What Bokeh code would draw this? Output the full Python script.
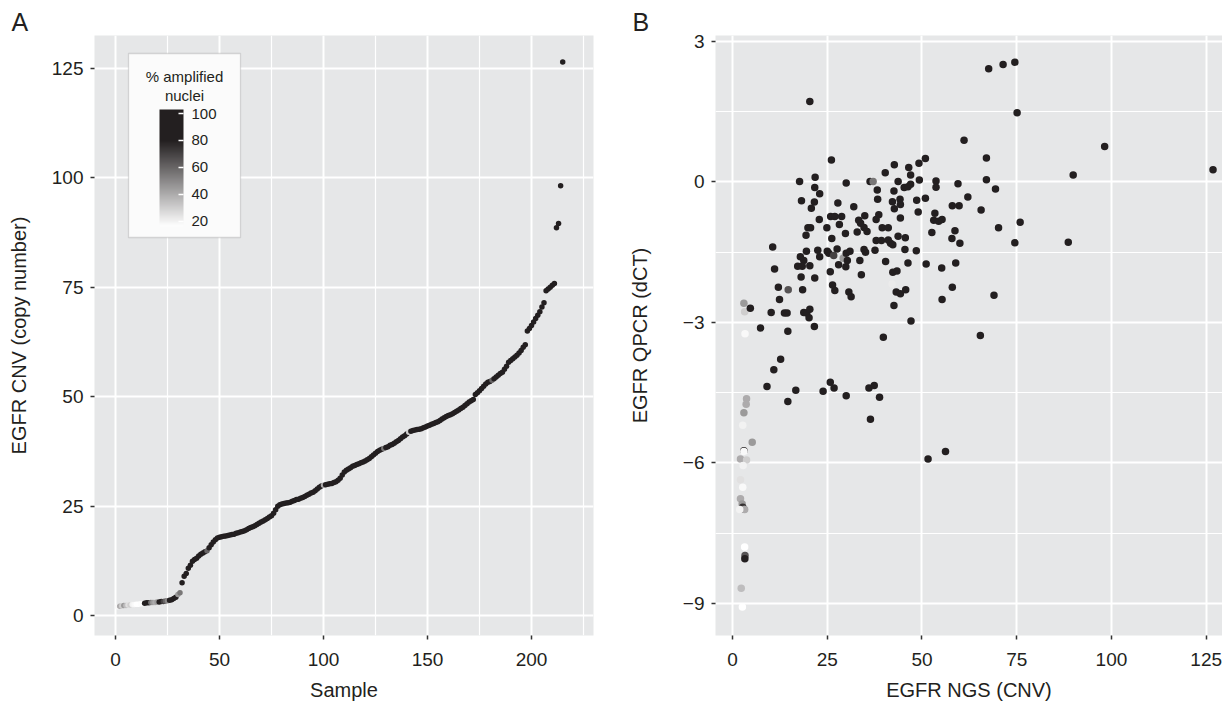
import numpy as np
from bokeh.plotting import figure
from bokeh.models import (ColumnDataSource, LinearColorMapper, ColorBar, FixedTicker,
                          Label, Range1d, BoxAnnotation, CustomJSTickFormatter)
from bokeh.layouts import row
from bokeh.transform import transform
from bokeh.embed import file_html
from bokeh.resources import INLINE

# ---------------- data ----------------
# Panel A: samples sorted by EGFR copy number
sample_idx = list(range(1, 216))
cnv_a = [
    2.0, 2.1, 2.2, 2.3, 2.3, 2.4, 2.4, 2.5, 2.5, 2.6,
    2.6, 2.7, 2.7, 2.8, 2.9, 2.9, 3.0, 3.0, 3.0, 3.1,
    3.1, 3.2, 3.2, 3.3, 3.4, 3.5, 3.6, 3.9, 4.2, 4.8,
    5.2, 7.5, 9.0, 9.6, 10.8, 11.5, 12.4, 12.8, 13.1, 13.6,
    14.0, 14.3, 14.6, 14.8, 15.5, 16.2, 16.8, 17.3, 17.7, 17.9,
    18.0, 18.1, 18.2, 18.3, 18.4, 18.5, 18.6, 18.8, 18.9, 19.1,
    19.2, 19.4, 19.6, 19.9, 20.1, 20.3, 20.5, 20.8, 21.1, 21.4,
    21.6, 21.9, 22.2, 22.5, 22.8, 23.4, 24.2, 25.0, 25.3, 25.5,
    25.6, 25.7, 25.8, 25.9, 26.1, 26.3, 26.5, 26.6, 26.8, 27.0,
    27.2, 27.5, 27.7, 28.0, 28.2, 28.5, 28.9, 29.3, 29.6, 29.8,
    29.9, 30.0, 30.1, 30.2, 30.4, 30.6, 30.9, 31.4, 32.1, 32.8,
    33.2, 33.5, 33.8, 34.1, 34.3, 34.5, 34.7, 34.9, 35.1, 35.3,
    35.6, 35.9, 36.3, 36.7, 37.1, 37.5, 37.8, 38.0, 38.2, 38.4,
    38.6, 38.9, 39.1, 39.4, 39.7, 40.0, 40.4, 40.8, 41.1, 41.5,
    41.9, 42.1, 42.3, 42.4, 42.5, 42.6, 42.7, 42.9, 43.1, 43.3,
    43.5, 43.7, 43.9, 44.1, 44.3, 44.6, 44.9, 45.2, 45.5, 45.7,
    45.9, 46.1, 46.4, 46.7, 47.0, 47.3, 47.6, 48.0, 48.4, 48.8,
    49.1, 49.4, 50.5, 50.9, 51.4, 51.9, 52.4, 52.9, 53.3, 53.5,
    53.8, 54.1, 54.5, 54.9, 55.3, 55.6, 56.3, 57.0, 57.9, 58.3,
    58.7, 59.1, 59.5, 60.0, 60.6, 61.3, 61.9, 65.0, 65.6, 66.3,
    67.1, 67.9, 68.6, 69.4, 70.5, 71.5, 74.2, 74.6, 75.0, 75.5,
    75.9, 88.6, 89.6, 98.2, 126.5,
]
pct_a = [
    18, 40, 30, 45, 35, 25, 30, 20, 18, 16,
    16, 17, 16, 85, 80, 82, 55, 45, 40, 45,
    90, 88, 70, 60, 50, 85, 90, 85, 95, 45,
    55,
    95, 95, 95, 95, 95, 95, 95, 95, 95, 95, 95, 95, 60, 95, 95, 95, 95, 95, 95, 95,
    95, 95, 95, 95, 95, 95, 95, 95, 95, 95, 95, 95, 95, 95, 95, 95, 95, 95, 95, 95,
    95, 95, 95, 95, 95, 95, 95, 95, 95, 95, 95, 95, 95, 95, 95, 95, 95, 95, 95, 95,
    95, 95, 95, 95, 95, 95, 95, 95, 40, 95, 95, 95, 95, 95, 95, 95, 95, 95, 95, 95,
    95, 95, 95, 95, 95, 95, 95, 95, 95, 95, 95, 95, 95, 95, 95, 95, 95, 55, 95, 95,
    95, 95, 95, 95, 95, 95, 95, 95, 95, 30, 95, 95, 95, 95, 95, 95, 95, 95, 95, 95,
    95, 95, 95, 95, 95, 95, 95, 95, 95, 95, 95, 95, 95, 95, 95, 95, 95, 95, 95, 95,
    95, 95, 95, 95, 95, 95, 95, 95, 95, 60, 95, 95, 95, 95, 95, 95, 95, 95, 95, 95,
    95, 95, 95, 95, 95, 95, 95, 95, 95, 95, 95, 95, 95, 95, 95, 95, 95, 95, 95, 95,
    95, 95, 95, 95,
]

# Panel B: EGFR NGS (CNV) vs EGFR QPCR (dCT)
ngs_b = [
    20.4, 61.1, 26.1, 50.9, 49.2, 42.7, 46.5, 40.3, 47.0, 17.7,
    21.8, 30.0, 36.3, 37.1, 43.7, 49.3, 53.7, 59.5, 21.7, 23.0,
    38.2, 42.6, 45.3, 46.3, 47.0, 53.7, 62.1, 18.2, 21.6, 20.8,
    27.8, 32.0, 38.3, 42.2, 44.2, 44.3, 42.7, 48.6, 50.9, 49.0,
    53.4, 53.1, 54.4, 55.3, 58.0, 59.8, 22.9, 25.9, 27.0, 28.8,
    28.2, 24.9, 33.3, 33.8, 34.9, 34.7, 35.5, 32.9, 38.6, 37.9,
    39.5, 41.1, 44.3, 29.8, 19.4, 19.9, 20.6, 52.6, 58.7, 57.9,
    60.0, 43.7, 45.6, 37.9, 39.3, 41.1, 41.7, 42.3, 26.2, 10.6,
    19.5, 22.5, 25.0, 25.4, 26.7, 27.6, 29.2, 30.0, 31.0, 30.3,
    34.7, 35.1, 37.6, 45.5, 48.5, 17.9, 18.8, 17.2, 18.4, 20.4,
    23.0, 28.0, 29.9, 33.6, 40.4, 46.3, 51.1, 55.2, 58.9, 11.1,
    18.1, 21.7, 25.8, 34.0, 42.3, 43.4, 12.1, 14.7, 18.5, 12.4,
    27.0, 26.4, 30.7, 31.3, 43.2, 44.3, 45.7, 42.1, 42.6, 47.1,
    55.3, 58.0, 3.0, 3.2, 4.7, 10.2, 13.7, 14.4, 18.8, 19.6,
    20.4, 20.2, 21.6, 7.4, 14.6, 3.3, 39.8, 12.7, 10.9, 9.1,
    16.7, 14.6, 23.9, 25.8, 26.8, 30.0, 36.0, 37.4, 38.8, 36.4,
    51.6, 56.2, 3.7, 3.6, 3.0, 2.7, 5.2, 3.0, 3.0, 2.1,
    3.7, 2.8, 2.1, 2.7, 2.1, 2.55, 2.7, 3.0, 3.2, 1.9,
    3.2, 3.3, 3.25, 2.3, 2.6, 67.6, 71.4, 74.5, 75.1, 98.2,
    67.0, 89.9, 126.8, 67.0, 69.4, 65.6, 75.9, 70.2, 74.5, 88.6,
    69.0, 65.4,
]
qpcr_b = [
    1.72, 0.89, 0.47, 0.50, 0.40, 0.37, 0.31, 0.20, 0.15, 0.01,
    0.10, -0.02, 0.01, 0.01, 0.01, 0.04, 0.02, -0.04, -0.12, -0.25,
    -0.17, -0.19, -0.12, -0.10, -0.05, -0.11, -0.32, -0.40, -0.43, -0.56,
    -0.45, -0.53, -0.37, -0.42, -0.37, -0.48, -0.57, -0.39, -0.35, -0.64,
    -0.67, -0.82, -0.84, -0.80, -0.51, -0.51, -0.80, -0.74, -0.74, -0.74,
    -0.91, -0.98, -0.82, -0.88, -0.72, -0.97, -1.06, -1.07, -0.70, -0.80,
    -0.98, -0.98, -0.77, -1.10, -1.14, -0.98, -0.98, -1.08, -1.04, -1.21,
    -1.31, -1.16, -1.19, -1.25, -1.25, -1.24, -1.31, -1.34, -1.21, -1.39,
    -1.48, -1.46, -1.48, -1.52, -1.57, -1.43, -1.63, -1.52, -1.48, -1.68,
    -1.44, -1.50, -1.46, -1.44, -1.47, -1.60, -1.68, -1.80, -1.80, -1.79,
    -1.60, -1.77, -1.81, -1.68, -1.70, -1.73, -1.75, -1.84, -1.73, -1.86,
    -2.03, -2.05, -1.92, -1.98, -1.93, -1.90, -2.25, -2.30, -2.30, -2.51,
    -2.32, -2.20, -2.35, -2.45, -2.35, -2.39, -2.30, -2.18, -2.64, -2.97,
    -2.51, -2.25, -2.59, -2.77, -2.70, -2.79, -2.80, -2.80, -2.79, -2.80,
    -2.72, -2.90, -3.09, -3.12, -3.19, -3.24, -3.32, -3.79, -4.01, -4.37,
    -4.45, -4.69, -4.47, -4.28, -4.40, -4.57, -4.40, -4.35, -4.60, -5.07,
    -5.92, -5.76, -4.63, -4.75, -4.93, -5.20, -5.56, -5.74, -5.76, -5.92,
    -5.94, -6.06, -6.36, -6.52, -6.77, -6.88, -6.95, -6.99, -7.00, -7.00,
    -7.80, -7.98, -8.05, -8.68, -9.08, 2.42, 2.51, 2.56, 1.48, 0.76,
    0.51, 0.15, 0.26, 0.05, -0.15, -0.60, -0.86, -0.98, -1.30, -1.29,
    -2.42, -3.28,
]
pct_b = [
    95, 95, 95, 95, 95, 95, 95, 95, 95, 95,
    95, 95, 95, 55, 95, 95, 95, 95, 95, 95,
    95, 95, 95, 95, 95, 95, 95, 95, 95, 95,
    95, 95, 95, 95, 95, 95, 95, 95, 95, 95,
    95, 95, 95, 95, 95, 95, 95, 95, 95, 95,
    95, 95, 95, 95, 95, 95, 95, 95, 95, 95,
    95, 95, 95, 95, 95, 95, 95, 95, 95, 95,
    95, 95, 95, 95, 95, 95, 95, 95, 95, 95,
    95, 95, 95, 95, 70, 95, 45, 95, 95, 95,
    95, 95, 95, 95, 95, 95, 95, 95, 95, 95,
    95, 95, 95, 95, 95, 95, 95, 95, 95, 95,
    95, 95, 95, 95, 95, 95, 95, 65, 95, 95,
    95, 95, 95, 95, 95, 95, 95, 22, 95, 95,
    95, 95, 45, 30, 95, 95, 95, 95, 95, 95,
    95, 95, 95, 95, 95, 18, 95, 95, 95, 95,
    95, 95, 95, 95, 95, 95, 95, 95, 95, 95,
    95, 95, 40, 40, 45, 20, 45, 85, 18, 40,
    30, 20, 25, 18, 40, 45, 75, 65, 40, 20,
    15, 65, 90, 35, 15, 95, 95, 95, 95, 95,
    95, 95, 95, 95, 95, 95, 95, 95, 95, 95,
    95, 95,
]

cbar_ticks = [20, 40, 60, 80, 100]
xa_ticks = [0, 50, 100, 150, 200]
xa_minor = [25, 75, 125, 175, 225]
ya_ticks = [0, 25, 50, 75, 100, 125]
xb_ticks = [0, 25, 50, 75, 100, 125]
yb_ticks = [-9, -6, -3, 0, 3]
yb_minor = [-7.5, -4.5, -1.5, 1.5]

# ---------------- style ----------------
FONT = "Liberation Sans"
INK = "#231F20"
PANEL = "#E6E7E8"
TICK_FS = "19px"
TITLE_FS = "20px"

pal_vals = np.linspace(16, 103, 256)
palette = []
for v in pal_vals:
    t = min(1.0, max(0.0, (v - 16) / (80 - 16)))
    r = round(255 + (0x23 - 255) * t)
    g = round(255 + (0x1F - 255) * t)
    b = round(255 + (0x20 - 255) * t)
    palette.append("#%02x%02x%02x" % (r, g, b))
mapper = LinearColorMapper(palette=palette, low=16, high=103)


def style(p, xlab, ylab, ylab_standoff, letter):
    p.background_fill_color = PANEL
    p.border_fill_color = "white"
    p.outline_line_color = None
    p.xaxis.axis_label = xlab
    p.yaxis.axis_label = ylab
    for ax in (p.xaxis[0], p.yaxis[0]):
        ax.axis_line_color = None
        ax.major_tick_line_color = "#333333"
        ax.major_tick_line_width = 1.5
        ax.major_tick_out = 4
        ax.major_tick_in = 0
        ax.minor_tick_out = 0
        ax.minor_tick_in = 0
        ax.major_label_text_font = FONT
        ax.major_label_text_font_size = TICK_FS
        ax.major_label_text_color = INK
        ax.axis_label_text_font = FONT
        ax.axis_label_text_font_size = TITLE_FS
        ax.axis_label_text_font_style = "normal"
        ax.axis_label_text_color = INK
    p.xaxis.major_label_standoff = 13
    p.xaxis.axis_label_standoff = 10
    p.yaxis.major_label_standoff = 7
    p.yaxis.axis_label_standoff = ylab_standoff
    p.xgrid.grid_line_color = "white"
    p.xgrid.grid_line_width = 2
    p.ygrid.grid_line_color = "white"
    p.ygrid.grid_line_width = 2
    p.xgrid.minor_grid_line_color = "white"
    p.xgrid.minor_grid_line_width = 1.2
    p.ygrid.minor_grid_line_color = "white"
    p.ygrid.minor_grid_line_width = 1.2
    p.title.text = letter
    p.title.align = "left"
    p.title.offset = -83
    p.title.standoff = 0
    p.title.text_font = FONT
    p.title.text_font_size = "25px"
    p.title.text_font_style = "normal"
    p.title.text_color = INK


# ---------------- panel A ----------------
pA = figure(width=615, height=718, output_backend="svg", toolbar_location=None,
            x_range=Range1d(-10.1, 229.8), y_range=Range1d(-4.57, 132.57),
            min_border_left=94, min_border_right=22, min_border_top=35, min_border_bottom=83)
style(pA, "Sample", "EGFR CNV (copy number)", 19, "A")
pA.xaxis.ticker = FixedTicker(ticks=xa_ticks, minor_ticks=xa_minor)
pA.yaxis.ticker = FixedTicker(ticks=ya_ticks)

srcA = ColumnDataSource(dict(x=sample_idx, y=cnv_a, pct=pct_a))
pA.scatter("x", "y", source=srcA, size=5.5, line_color=None,
           fill_color=transform("pct", mapper))

legend_box = BoxAnnotation(left=34, right=146, bottom=398, top=582,
                           left_units="screen", right_units="screen",
                           bottom_units="screen", top_units="screen",
                           fill_color="#FBFBFB", fill_alpha=1.0,
                           line_color="#8A8A8A", line_width=1.3)
pA.add_layout(legend_box)

cb = ColorBar(color_mapper=mapper, ticker=FixedTicker(ticks=cbar_ticks),
              location=(65, 409), orientation="vertical", width=24, height=117,
              padding=0, margin=0, label_standoff=8,
              major_label_text_font=FONT, major_label_text_font_size="15px",
              major_label_text_color=INK,
              major_tick_line_color="white", major_tick_line_width=1.5,
              major_tick_in=5, major_tick_out=0,
              bar_line_color=None, background_fill_color=None, background_fill_alpha=0,
              border_line_color=None)
pA.add_layout(cb)

for txt, yy in (("% amplified", 568), ("nuclei", 549)):
    pA.add_layout(Label(x=90, y=yy, x_units="screen", y_units="screen", text=txt,
                        text_align="center", text_baseline="top",
                        text_font=FONT, text_font_size="15px", text_color=INK))

# ---------------- panel B ----------------
pB = figure(width=607, height=718, output_backend="svg", toolbar_location=None,
            x_range=Range1d(-4.49, 129.3), y_range=Range1d(-9.69, 3.13),
            min_border_left=100, min_border_right=0, min_border_top=35, min_border_bottom=83)
style(pB, "EGFR NGS (CNV)", "EGFR QPCR (dCT)", 29, "B")
pB.xaxis.ticker = FixedTicker(ticks=xb_ticks)
pB.yaxis.ticker = FixedTicker(ticks=yb_ticks, minor_ticks=yb_minor)
pB.yaxis.formatter = CustomJSTickFormatter(
    code="return tick < 0 ? '\u2212' + Math.abs(tick) : '' + tick;")

srcB = ColumnDataSource(dict(x=ngs_b, y=qpcr_b, pct=pct_b))
pB.scatter("x", "y", source=srcB, size=7.5, line_color=None,
           fill_color=transform("pct", mapper))

layout = row(pA, pB, spacing=0)
open("out.html", "w").write(file_html(layout, INLINE))
